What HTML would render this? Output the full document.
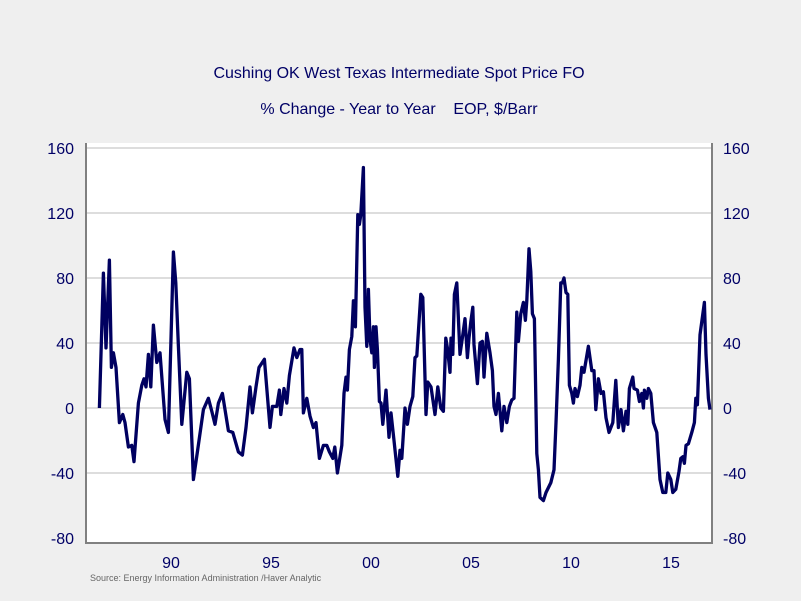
<!DOCTYPE html>
<html><head><meta charset="utf-8"><style>
body{margin:0;background:#efefef;}
svg{display:block;font-family:"Liberation Sans",sans-serif;}
</style></head><body>
<svg id="chart" width="801" height="601" viewBox="0 0 801 601">
<rect x="0" y="0" width="801" height="601" fill="#efefef"/>
<text x="399" y="78" text-anchor="middle" font-size="16" fill="#000066">Cushing OK West Texas Intermediate Spot Price FO</text>
<text x="399" y="114" text-anchor="middle" font-size="16" fill="#000066">% Change - Year to Year&#160;&#160;&#160;&#160;EOP, $/Barr</text>
<rect x="86" y="143" width="626" height="400" fill="#ffffff"/>
<g id="grid"></g>
<g id="axes"></g>
<path id="series" fill="none" stroke="#000060" stroke-width="3.3" stroke-linejoin="round"/>
<text x="90" y="581" font-size="9" fill="#666666">Source: Energy Information Administration /Haver Analytic</text>
</svg>
<script>
const yTicks=[160,120,80,40,0,-40,-80];
const xTickYears=[1990,1995,2000,2005,2010,2015];
const xTickLabels=["90","95","00","05","10","15"];
const dates=[1986.42,1986.62,1986.75,1986.92,1987.02,1987.12,1987.25,1987.42,1987.59,1987.70,1987.87,1988.04,1988.15,1988.37,1988.54,1988.65,1988.75,1988.87,1988.99,1989.12,1989.29,1989.45,1989.70,1989.87,1990.12,1990.24,1990.37,1990.54,1990.79,1990.92,1991.12,1991.32,1991.62,1991.87,1992.04,1992.20,1992.37,1992.57,1992.87,1993.09,1993.37,1993.57,1993.75,1993.95,1994.07,1994.25,1994.40,1994.67,1994.95,1995.07,1995.29,1995.42,1995.49,1995.65,1995.79,1995.92,1996.15,1996.29,1996.45,1996.54,1996.62,1996.79,1996.95,1997.12,1997.25,1997.42,1997.62,1997.79,1997.92,1998.09,1998.19,1998.32,1998.54,1998.65,1998.75,1998.82,1998.92,1999.04,1999.12,1999.22,1999.34,1999.42,1999.49,1999.62,1999.70,1999.79,1999.87,1999.95,2000.04,2000.12,2000.17,2000.25,2000.32,2000.42,2000.50,2000.59,2000.75,2000.90,2001.00,2001.15,2001.34,2001.45,2001.54,2001.70,2001.82,2001.95,2002.09,2002.20,2002.29,2002.49,2002.59,2002.75,2002.84,2003.00,2003.20,2003.34,2003.49,2003.62,2003.74,2003.82,2003.95,2004.00,2004.09,2004.17,2004.29,2004.45,2004.59,2004.70,2004.82,2004.90,2004.99,2005.09,2005.15,2005.32,2005.45,2005.57,2005.65,2005.79,2005.95,2006.07,2006.15,2006.25,2006.37,2006.54,2006.65,2006.79,2006.92,2007.04,2007.15,2007.29,2007.37,2007.49,2007.62,2007.72,2007.79,2007.90,2007.99,2008.07,2008.17,2008.29,2008.37,2008.45,2008.62,2008.75,2008.87,2008.99,2009.15,2009.25,2009.37,2009.49,2009.57,2009.65,2009.75,2009.84,2009.92,2010.04,2010.12,2010.20,2010.32,2010.45,2010.54,2010.65,2010.87,2011.04,2011.15,2011.24,2011.37,2011.50,2011.62,2011.75,2011.90,2012.09,2012.24,2012.37,2012.50,2012.62,2012.75,2012.84,2012.92,2013.09,2013.15,2013.32,2013.42,2013.54,2013.62,2013.67,2013.79,2013.87,2013.99,2014.12,2014.29,2014.45,2014.59,2014.74,2014.84,2014.99,2015.09,2015.24,2015.40,2015.49,2015.59,2015.67,2015.75,2015.87,2016.04,2016.17,2016.24,2016.32,2016.45,2016.67,2016.75,2016.87,2016.95];
const values=[0,83,37,91,25,34,25,-9,-4,-9,-24,-23,-33,3,14,18,13,33,13,51,28,34,-7,-15,96,77,38,-10,22,18,-44,-27,-1,6,-2,-10,3,9,-14,-15,-27,-29,-12,13,-3,13,25,30,-12,1,1,11,-4,12,3,20,37,31,36,36,-3,6,-5,-12,-9,-31,-23,-23,-27,-31,-24,-40,-23,9,19,11,36,44,66,50,119,113,119,148,62,38,73,42,34,50,25,50,36,4,3,-10,11,-18,-3,-20,-42,-26,-31,0,-10,1,7,31,32,70,68,-4,16,13,-4,13,0,-2,43,37,22,43,33,70,77,33,45,55,31,43,53,62,39,15,40,41,19,46,34,23,1,-4,9,-14,1,-9,1,5,6,59,41,58,65,54,66,98,84,58,55,-28,-38,-55,-57,-52,-49,-46,-38,-9,30,77,77,80,71,70,14,9,3,12,7,14,25,22,38,23,23,-1,18,9,10,-6,-15,-9,17,-12,-1,-14,-2,-10,12,19,12,11,4,9,0,11,6,12,9,-9,-15,-44,-52,-52,-40,-44,-52,-50,-39,-31,-30,-34,-23,-22,-15,-9,6,2,45,65,33,6,-1];
const L=86,R=712,T=143,B=543;
function yS(v){return 408-(v/40)*65;}
function xS(d){return 171+(d-1990)*20;}
const ns="http://www.w3.org/2000/svg";
const grid=document.getElementById('grid'),axes=document.getElementById('axes');
function mk(tag,attrs,parent,txt){const e=document.createElementNS(ns,tag);for(const k in attrs)e.setAttribute(k,attrs[k]);if(txt!==undefined)e.textContent=txt;parent.appendChild(e);return e;}
yTicks.forEach(v=>{
  const y=yS(v);
  if(v!==-80){const g=mk('line',{x1:L,x2:R,y1:y,y2:y,stroke:'#bbbbbb','stroke-width':1},grid);
  
  }
  const t1=mk('text',{x:74,y:y+6,'text-anchor':'end','font-size':16,fill:'#000066'},axes,String(v));
  
  
  const t2=mk('text',{x:723,y:y+6,'text-anchor':'start','font-size':16,fill:'#000066'},axes,String(v));
  
  
});
xTickYears.forEach((yr,i)=>{
  const t=mk('text',{x:xS(yr),y:568,'text-anchor':'middle','font-size':16,fill:'#000066'},axes,xTickLabels[i]);
  
  
});
const la=mk('path',{d:`M${L},${T} V${B} H${R} V${T}`,fill:'none',stroke:'#808080','stroke-width':2},axes);


let d='';
dates.forEach((dt,i)=>{d+=(i?'L':'M')+xS(dt).toFixed(1)+','+yS(values[i]).toFixed(1);});
document.getElementById('series').setAttribute('d',d);
</script>
</body></html>
